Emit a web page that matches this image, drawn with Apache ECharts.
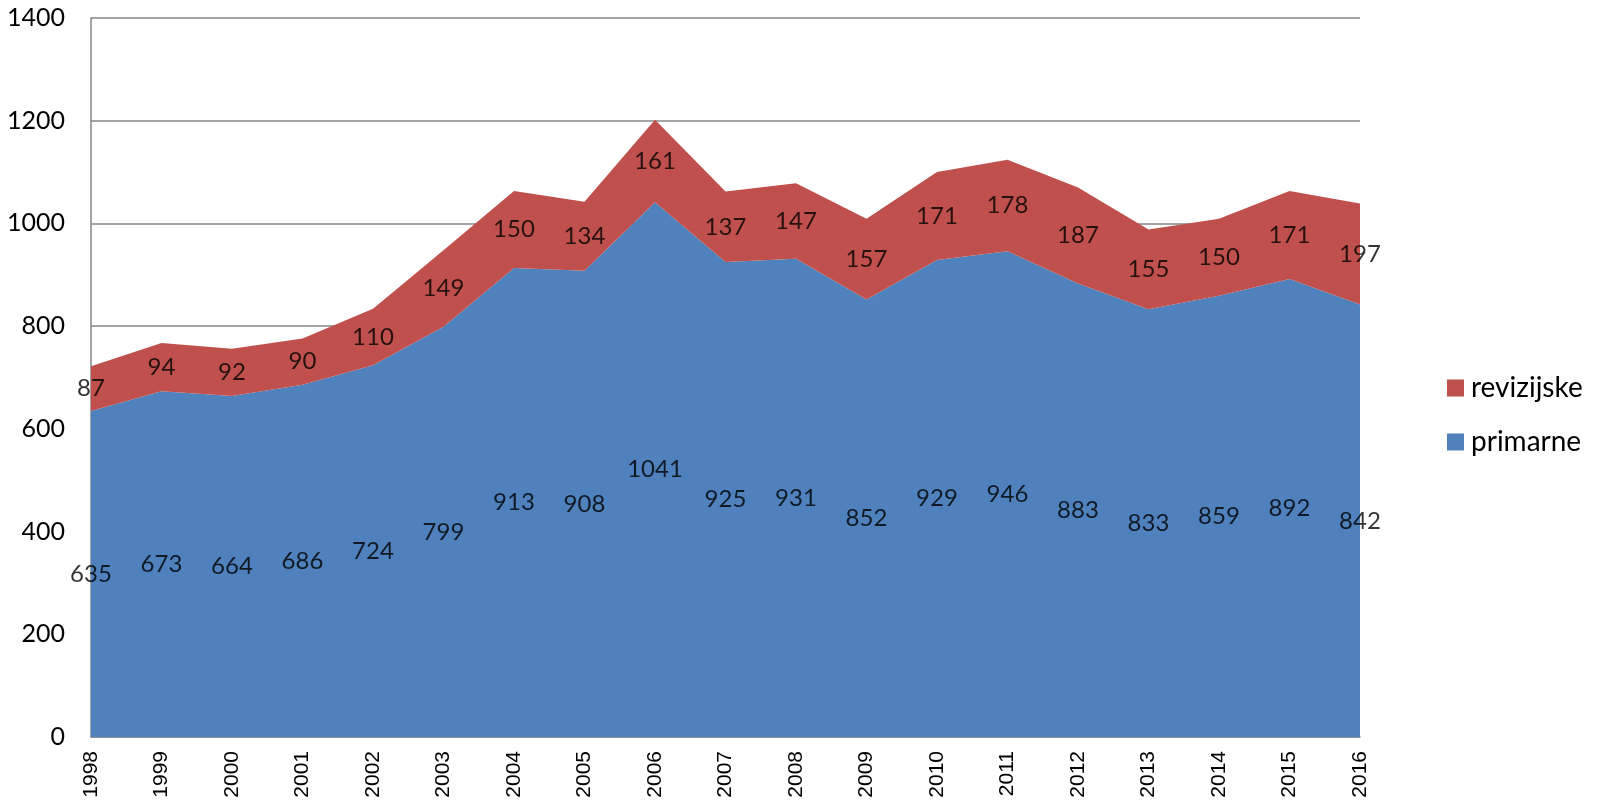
<!DOCTYPE html>
<html><head><meta charset="utf-8">
<script src="https://cdn.jsdelivr.net/npm/echarts@6/dist/echarts.min.js"></script>
<style>html,body{margin:0;padding:0;background:#fff}#c{width:1604px;height:804px}</style>
</head><body><div id="c"></div>
<script>
const years = ['1998','1999','2000','2001','2002','2003','2004','2005','2006','2007','2008','2009','2010','2011','2012','2013','2014','2015','2016'];
const primarne = [635,673,664,686,724,799,913,908,1041,925,931,852,929,946,883,833,859,892,842];
const revizijske = [87,94,92,90,110,149,150,134,161,137,147,157,171,178,187,155,150,171,197];
const yTicks = [0,200,400,600,800,1000,1200,1400];

const blue = '#4F81BD', red = '#C0504D';
const labelFont = {fontFamily:'Lato', fontSize:24, color:'#000'};

const midPrim = primarne.map((v,i)=>({value:[i, v/2], raw:v}));
const midRev = revizijske.map((v,i)=>({value:[i, primarne[i] + v/2], raw:v}));

const chart = echarts.init(document.getElementById('c'));
chart.setOption({
  animation:false,
  grid:{left:91, right:244, top:18, bottom:67},
  legend:{
    orient:'vertical', left:1442, top:369,
    itemWidth:17, itemHeight:17, itemGap:26,
    icon:'rect',
    data:['revizijske','primarne'],
    textStyle:{fontFamily:'Lato', fontSize:28, color:'#000', lineHeight:28, padding:[0,0,0,2]}
  },
  xAxis:{
    type:'category', data:years, boundaryGap:false,
    axisLine:{lineStyle:{color:'#868686', width:1.5}},
    axisTick:{show:false},
    axisLabel:{rotate:90, fontFamily:'Liberation Sans', fontSize:21, color:'#000', margin:14}
  },
  yAxis:{
    type:'value', min:0, max:1400, interval:200,
    axisLine:{show:true, lineStyle:{color:'#868686', width:1.5}},
    axisTick:{show:false},
    splitLine:{lineStyle:{color:'#868686', width:1.5}},
    axisLabel:{fontFamily:'Lato', fontSize:25, color:'#000', margin:26,
      formatter:v=> yTicks.includes(v) ? String(v) : ''}
  },
  series:[
    {name:'primarne', type:'line', stack:'a', data:primarne, symbol:'none',
     lineStyle:{width:0}, itemStyle:{color:blue}, areaStyle:{color:blue, opacity:1}, z:2},
    {name:'revizijske', type:'line', stack:'a', data:revizijske, symbol:'none',
     lineStyle:{width:0}, itemStyle:{color:red}, areaStyle:{color:red, opacity:1}, z:2},
    {type:'scatter', data:midPrim, symbolSize:0, silent:true, z:5,
     label:{show:true, position:'inside', formatter:p=>String(p.data.raw), ...labelFont}},
    {type:'scatter', data:midRev, symbolSize:0, silent:true, z:5,
     label:{show:true, position:'inside', formatter:p=>String(p.data.raw), ...labelFont}}
  ]
});
</script></body></html>
